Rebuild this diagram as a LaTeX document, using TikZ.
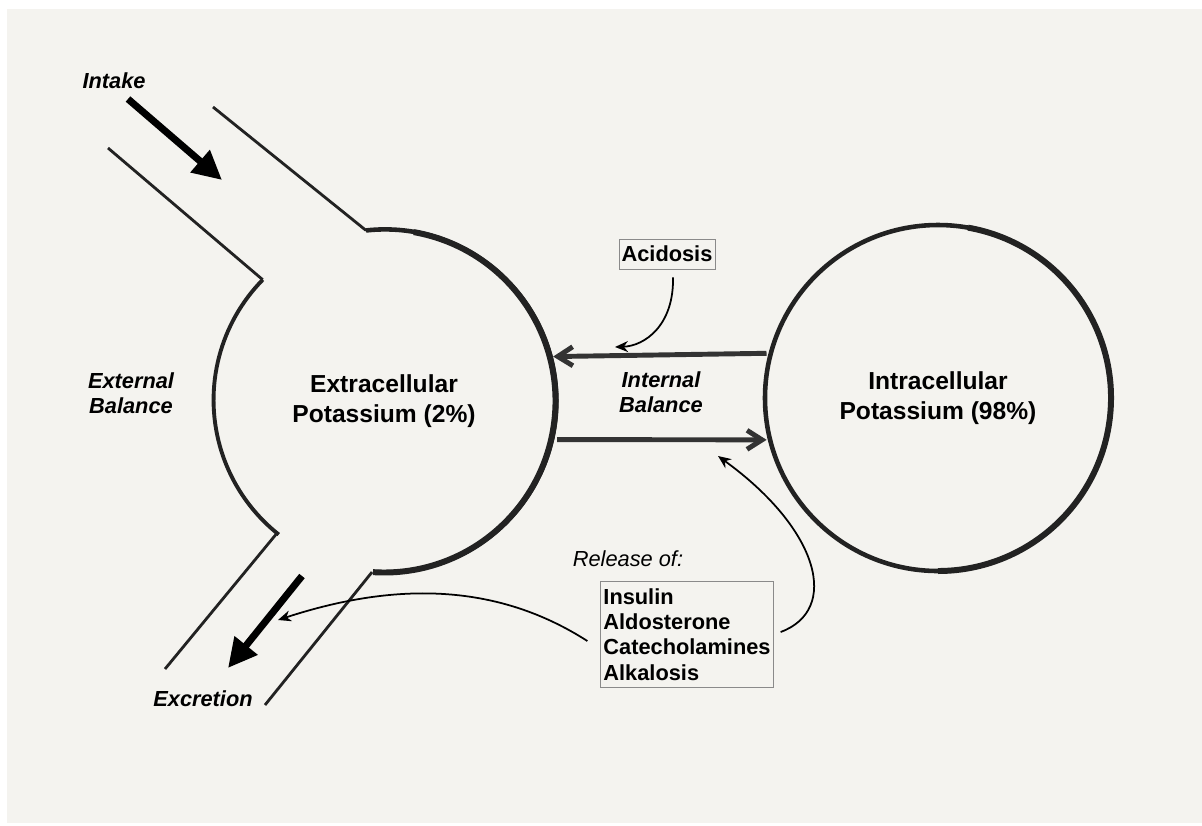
\documentclass[tikz,border=0pt]{standalone}
\usepackage{fontspec}
\setmainfont{Liberation Sans}
\usepackage{xcolor}
\usepackage{tikz}
\usetikzlibrary{arrows.meta,positioning,calc}
\definecolor{ink}{HTML}{222222}
\definecolor{paper}{HTML}{F4F3EF}
\definecolor{boxline}{HTML}{8A8A8A}
\definecolor{flow}{HTML}{333333}

\begin{document}
\begin{tikzpicture}[
  pool/.style={circle, minimum size=6.86cm, inner sep=0pt, outer sep=0pt, align=center, font=\fontsize{14}{17}\selectfont\bfseries},
  wall/.style={draw=ink, line width=2.6pt},
  duct/.style={draw=ink, line width=1.6pt},
  lbl/.style={align=center, font=\fontsize{12.4}{14}\selectfont\bfseries\itshape},
  factor/.style={draw=boxline, line width=0.5pt, fill=paper, inner xsep=1.5pt, inner ysep=4pt, align=left, font=\fontsize{12.4}{14.4}\selectfont\bfseries},
  bigflow/.style={-{Triangle[length=5.8mm,width=5.6mm]}, line width=4pt, black},
  exchange/.style={-{Straight Barb[length=3mm,width=3.8mm]}, line width=2.8pt, flow, shorten <=2.5pt, shorten >=2pt},
  effect/.style={-{Stealth[length=2.6mm,width=2.2mm]}, line width=1pt, black}
]
\fill[white] (0,0) rectangle (24.04,-16.5);
\fill[paper] (0.14,-0.18) rectangle (24.04,-16.46);
\useasboundingbox (0,0) rectangle (24.04,-16.5);

\node[pool] (ecf) at (7.68,-8.02) {Extracellular\\Potassium (2\%)};
\node[pool, wall, minimum size=6.92cm] (icf) at (18.76,-7.96) {Intracellular\\Potassium (98\%)};

\draw[wall] (ecf.96.3) arc[start angle=96.3, end angle=-93.7, radius=3.43cm];
\draw[ink, line width=3.4pt] (ecf.80) arc[start angle=80, end angle=-93.7, radius=3.43cm];
\draw[wall, line width=2.2pt] (ecf.135.5) arc[start angle=135.5, end angle=231.7, radius=3.43cm];
\draw[ink, line width=3.4pt] (icf.80) arc[start angle=80, end angle=-90, radius=3.46cm];

\coordinate (in1) at (2.16,-2.96);
\coordinate (in2) at (4.26,-2.14);
\coordinate (out1) at (3.30,-13.38);
\coordinate (out2) at (5.30,-14.10);
\draw[duct] (in1) -- (ecf.135.5);
\draw[duct] (in2) -- (ecf.96.3);
\draw[duct] (ecf.231.7) -- (out1);
\draw[duct] (ecf.266.3) -- (out2);

\node[lbl] (intake) at (2.28,-1.62) {Intake};
\node[lbl] (excretion) at (4.06,-13.98) {Excretion};
\node[lbl] (external) at (2.62,-7.86) {External\\Balance};
\node[lbl] (internal) at (13.22,-7.84) {Internal\\Balance};

\coordinate (inS) at (2.56,-1.98);
\coordinate (inE) at (4.44,-3.60);
\coordinate (exS) at (6.04,-11.52);
\coordinate (exE) at (4.56,-13.36);
\draw[bigflow] (inS) -- (inE);
\draw[bigflow] (exS) -- (exE);

\draw[exchange] (icf.165.3) -- (ecf.15.9);
\draw[exchange, shorten <=3.4pt] (ecf.-13.5) -- (icf.194.4);

\node[factor] (acid) at (13.34,-5.08) {Acidosis};
\node[font=\fontsize{12.4}{14}\selectfont\itshape] (release) at (12.56,-11.18) {Release of:};
\node[factor] (hormones) at (13.74,-12.69) {Insulin\\Aldosterone\\Catecholamines\\Alkalosis};

\coordinate (acidT) at (12.30,-6.94);
\coordinate (exT) at (5.56,-12.40);
\coordinate (inT) at (14.36,-9.12);
\draw[effect] ([shift={(0.12,-0.16)}]acid.south) .. controls (13.48,-6.5) and (12.9,-6.92) .. (acidT);
\draw[effect] ([shift={(-0.26,-0.13)}]hormones.west) .. controls (10.0,-11.7) and (8.0,-11.6) .. (exT);
\draw[effect] ([shift={(0.14,0.05)}]hormones.east) .. controls (16.8,-12.2) and (16.4,-10.6) .. (inT);
\end{tikzpicture}
\end{document}
